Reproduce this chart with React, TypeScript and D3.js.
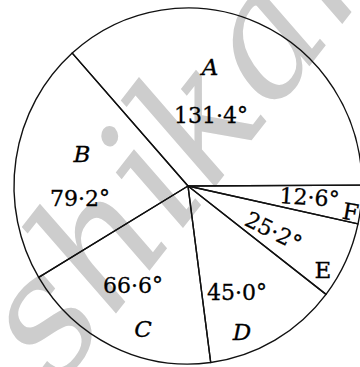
import React from "react";
import * as d3 from "d3";

// Data
const categories = ["A", "B", "C", "D", "E", "F"];
const degrees = [131.4, 79.2, 66.6, 45.0, 25.2, 12.6];
const valueLabels = ["131·4°", "79·2°", "66·6°", "45·0°", "25·2°", "12·6°"];
const watermark = "shikari";

// Layout (not data)
const W = 360;
const H = 367;
const CX = 188;
const CY = 186;
const R = 174;
const SY = 178 / 174;
const START_DEG = 89.7; // boundary between A and F (clockwise from 12 o'clock)

// text placement: [x, y, rotation] for category letter and value label
const letterPos: [number, number, number][] = [
  [210, 75, 0],
  [82, 162, 0],
  [143, 337, 0],
  [242, 340, 0],
  [323, 278, 0],
  [349, 220, 10],
];
const valuePos: [number, number, number][] = [
  [211, 123, 0],
  [80, 206, 0],
  [133, 293, 0],
  [237, 300, 0],
  [270, 238, 27],
  [309, 205, 4],
];
const italicLetters = [true, true, true, true, false, false];

export default function App() {
  const toRad = (d: number) => (d * Math.PI) / 180;
  const pie = d3
    .pie<number>()
    .sort(null)
    .value((d) => d)
    .startAngle(toRad(START_DEG + 360))
    .endAngle(toRad(START_DEG));
  const arcs = pie(degrees);
  const arc = d3.arc<d3.PieArcDatum<number>>().innerRadius(0).outerRadius(R);

  const font = "'DejaVu Serif', 'Liberation Serif', serif";

  return (
    <div style={{ position: "fixed", left: 0, top: 0 }}>
      <svg width={W} height={H} style={{ display: "block", background: "#fff" }}>
        <rect x={0} y={0} width={W} height={H} fill="#fff" />
        {/* watermark */}
        <text
          x={0}
          y={0}
          transform="translate(58,388) rotate(-52)"
          fontFamily="'DejaVu Serif', serif"
          fontStyle="italic"
          fontSize={168}
          fill="#cdcdcd"
        >
          {watermark}
        </text>
        <g transform={`translate(${CX},${CY}) scale(1,${SY})`}>
          {arcs.map((a, i) => (
            <path
              key={i}
              d={arc(a) || ""}
              fill="none"
              stroke="#111"
              strokeWidth={1.4}
              strokeLinejoin="round"
              vectorEffect="non-scaling-stroke"
            />
          ))}
        </g>
        {categories.map((c, i) => (
          <text
            key={"l" + i}
            x={0}
            y={0}
            transform={`translate(${letterPos[i][0]},${letterPos[i][1]}) rotate(${letterPos[i][2]})`}
            textAnchor="middle"
            fontFamily={font}
            fontStyle={italicLetters[i] ? "italic" : "normal"}
            fontSize={23}
            fill="#000"
            stroke="#000"
            strokeWidth={0.3}
          >
            {c}
          </text>
        ))}
        {valueLabels.map((v, i) => (
          <text
            key={"v" + i}
            x={0}
            y={0}
            transform={`translate(${valuePos[i][0]},${valuePos[i][1]}) rotate(${valuePos[i][2]})`}
            textAnchor="middle"
            fontFamily={font}
            fontSize={22}
            fill="#000"
            stroke="#000"
            strokeWidth={0.3}
          >
            {v}
          </text>
        ))}
      </svg>
    </div>
  );
}
